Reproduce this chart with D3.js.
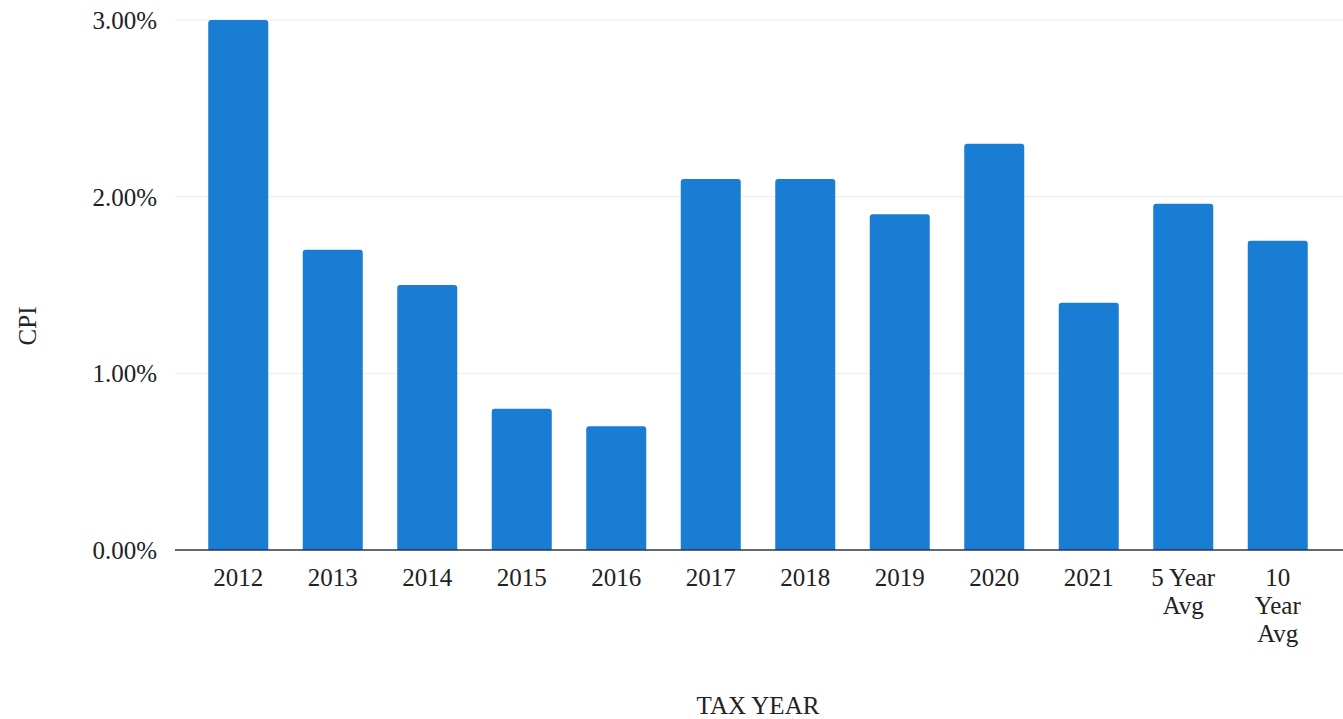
<!DOCTYPE html>
<html lang="en">
<head>
  <meta charset="UTF-8" />
  <title>CPI by Tax Year</title>
  <style>
    body { margin: 0; background: #fff; }
    text { font-family: "Liberation Serif", "DejaVu Serif", serif; fill: #222; }
  </style>
</head>
<body>
<script src="https://cdn.jsdelivr.net/npm/d3@7"></script>
<script>
// chart data
var categories = ["2012", "2013", "2014", "2015", "2016", "2017", "2018", "2019", "2020", "2021", "5 Year Avg", "10 Year Avg"];
var cpiValues = [3.0, 1.7, 1.5, 0.8, 0.7, 2.1, 2.1, 1.9, 2.3, 1.4, 1.96, 1.75];
var yTicks = [0, 1, 2, 3];
// how the long category names break onto lines
var labelLines = {
  "5 Year Avg": ["5 Year", "Avg"],
  "10 Year Avg": ["10", "Year", "Avg"]
};

var w = 1343, h = 719;
// (don't call these top/left - window.top is read only)
var plotLeft = 175, plotRight = 1343, plotTop = 20, plotBottom = 550;

var svg = d3.select("body").append("svg")
  .attr("width", w)
  .attr("height", h);

var xScale = d3.scaleBand()
  .domain(categories)
  .range([191, 1325])
  .paddingInner(0.365)
  .paddingOuter(0.1825);

var yScale = d3.scaleLinear()
  .domain([0, 3])
  .range([plotBottom, plotTop]);

// gridlines
svg.append("g").selectAll("line.grid")
  .data(yTicks.filter(function(d) { return d > 0; }))
  .enter().append("line")
  .attr("class", "grid")
  .attr("x1", plotLeft)
  .attr("x2", plotRight)
  .attr("y1", function(d) { return yScale(d); })
  .attr("y2", function(d) { return yScale(d); })
  .attr("stroke", "#ececec")
  .attr("stroke-width", 1);

// y axis labels
var yAxis = d3.axisLeft(yScale)
  .tickValues(yTicks)
  .tickSize(0)
  .tickPadding(0)
  .tickFormat(function(d) { return d.toFixed(2) + "%"; });

var yG = svg.append("g")
  .attr("transform", "translate(157,0)")
  .call(yAxis);
yG.select(".domain").remove();
yG.selectAll("text")
  .attr("font-size", 25)
  .attr("font-family", "Liberation Serif, serif")
  .attr("fill", "#222")
  .attr("dy", "0.34em");

// bars, top corners slightly rounded
var r = 3;
svg.append("g").selectAll("path.bar")
  .data(categories)
  .enter().append("path")
  .attr("class", "bar")
  .attr("fill", "#1a7dd4")
  .attr("d", function(d, i) {
    var x0 = xScale(d), x1 = x0 + xScale.bandwidth();
    var y0 = yScale(cpiValues[i]), y1 = yScale(0);
    return "M" + x0 + "," + y1 +
      "V" + (y0 + r) +
      "Q" + x0 + "," + y0 + " " + (x0 + r) + "," + y0 +
      "H" + (x1 - r) +
      "Q" + x1 + "," + y0 + " " + x1 + "," + (y0 + r) +
      "V" + y1 + "Z";
  });

// baseline
svg.append("line")
  .attr("x1", plotLeft)
  .attr("x2", plotRight)
  .attr("y1", yScale(0))
  .attr("y2", yScale(0))
  .attr("stroke", "#2b3550")
  .attr("stroke-width", 1.5);

// x axis labels
var xAxis = d3.axisBottom(xScale).tickSize(0).tickPadding(0);
var xG = svg.append("g")
  .attr("transform", "translate(0," + yScale(0) + ")")
  .call(xAxis);
xG.select(".domain").remove();
xG.selectAll("text").each(function(d) {
  var t = d3.select(this);
  var lines = labelLines[d] || [d];
  t.text(null)
    .attr("y", 0)
    .attr("dy", null)
    .attr("font-size", 25)
    .attr("font-family", "Liberation Serif, serif")
    .attr("fill", "#222");
  lines.forEach(function(line, k) {
    t.append("tspan")
      .attr("x", 0)
      .attr("y", 36 + k * 28)
      .text(line);
  });
});

// axis titles
svg.append("text")
  .attr("transform", "translate(36,326) rotate(-90)")
  .attr("text-anchor", "middle")
  .attr("font-size", 25)
  .text("CPI");

svg.append("text")
  .attr("x", 758)
  .attr("y", 714)
  .attr("text-anchor", "middle")
  .attr("font-size", 25)
  .text("TAX YEAR");
</script>
</body>
</html>
